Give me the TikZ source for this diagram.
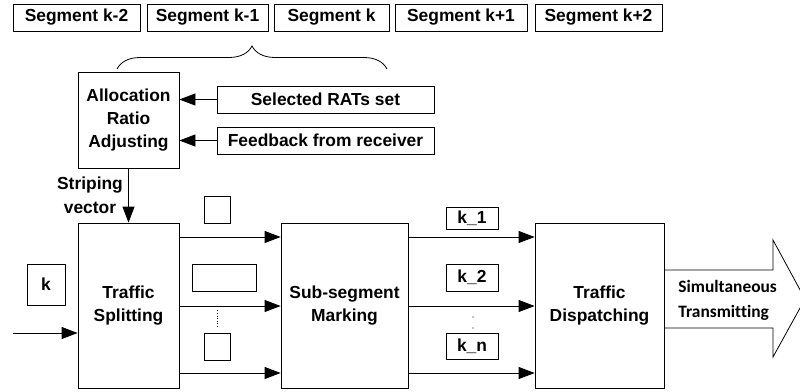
\documentclass[tikz,border=0pt]{standalone}
\usepackage{fontspec}
\setmainfont{Liberation Sans}
\newfontfamily\calib{Carlito}[Ligatures=CommonOff]
\usetikzlibrary{arrows.meta,decorations.pathreplacing}

\begin{document}
\begin{tikzpicture}[x=1pt,y=-1pt,line width=0.8pt,
  font=\fontsize{17.4}{23}\selectfont\bfseries,
  box/.style={draw, line width=0.8pt, inner sep=0pt, align=center},
  arr/.style={-{Triangle[length=16pt,width=12pt]}, line width=0.8pt}]

\useasboundingbox (0,0) rectangle (800,391);

% segment stream
\node[box, minimum width=127pt, minimum height=27pt] (s1) at (76.5,17.5) {Segment k-2};
\node[box, minimum width=121pt, minimum height=27pt] (s2) at (207.5,17.5) {Segment k-1};
\node[box, minimum width=115pt, minimum height=27pt] (s3) at (331.5,17.5) {Segment k};
\node[box, minimum width=132pt, minimum height=27pt] (s4) at (461,17.5) {Segment k+1};
\node[box, minimum width=127pt, minimum height=27pt] (s5) at (598.5,17.5) {Segment k+2};

% brace grouping the recent segments
\draw[decorate, decoration={brace, amplitude=23pt}] (117,69) -- (387,69);

% allocation control
\node[box, minimum width=101pt, minimum height=96pt] (alloc) at (128.5,120) {Allocation\\Ratio\\Adjusting};
\node[box, minimum width=217pt, minimum height=27pt] (rats) at (325.5,99.5) {Selected RATs set};
\node[box, minimum width=217pt, minimum height=27pt] (fb) at (325.5,140.5) {Feedback from receiver};
\draw[arr] (rats.west) -- (alloc.east |- rats.west);
\draw[arr] (fb.west) -- (alloc.east |- fb.west);

% processing chain
\node[box, minimum width=101pt, minimum height=165pt] (split) at (128.5,305.5) {Traffic\\Splitting};
\node[box, minimum width=127pt, minimum height=165pt] (mark) at (344.5,305.5) {Sub-segment\\Marking};
\node[box, minimum width=129pt, minimum height=165pt] (disp) at (599.5,305.5) {Traffic\\Dispatching};

\node[align=center, inner sep=0pt, font=\fontsize{17.4}{24}\selectfont\bfseries] (stlab) at (90,195) {Striping\\vector};
\draw[arr] (alloc.south) -- (split.north);

% incoming segment
\node[box, minimum width=38pt, minimum height=41pt] (kbox) at (46,284.5) {k};
\coordinate (src) at (13,333);
\draw[arr] (src) -- (split.west |- src);

% split outputs
\draw[arr] (split.east |- 0,237) -- (mark.west |- 0,237);
\draw[arr] (split.east |- 0,306) -- (mark.west |- 0,306);
\draw[arr] (split.east |- 0,373) -- (mark.west |- 0,373);
\node[box, minimum width=26pt, minimum height=27pt] (b1) at (217,209.5) {};
\node[box, minimum width=64pt, minimum height=27pt] (b2) at (224,277.5) {};
\node[box, minimum width=26pt, minimum height=27pt] (b3) at (217,346.5) {};
\draw[dotted, line width=0.6pt] (b2.south -| b1.center) ++(0,19) -- ++(0,17);

% marked sub-segments
\draw[arr] (mark.east |- 0,237) -- (disp.west |- 0,237);
\draw[arr] (mark.east |- 0,306) -- (disp.west |- 0,306);
\draw[arr] (mark.east |- 0,373) -- (disp.west |- 0,373);
\node[box, minimum width=52pt, minimum height=22pt] (k1) at (472,218.5) {k\_1};
\node[box, minimum width=52pt, minimum height=27pt] (k2) at (472,277.5) {k\_2};
\node[box, minimum width=52pt, minimum height=26pt] (kn) at (472,346) {k\_n};
\fill (473,317) circle (0.6pt) (473,328) circle (0.6pt);

% outgoing transmission arrow (its tip runs past the page edge)
\draw (disp.east |- 0,270) -- (773,270) -- (773,240) -- (805,299) -- (773,357)
      -- (773,328) -- (disp.east |- 0,328);
\node[align=left, anchor=west, inner sep=0pt, font=\calib\fontsize{17.4}{25}\selectfont\bfseries] (sim) at (678,300) {Simultaneous\\Transmitting};

\end{tikzpicture}
\end{document}
